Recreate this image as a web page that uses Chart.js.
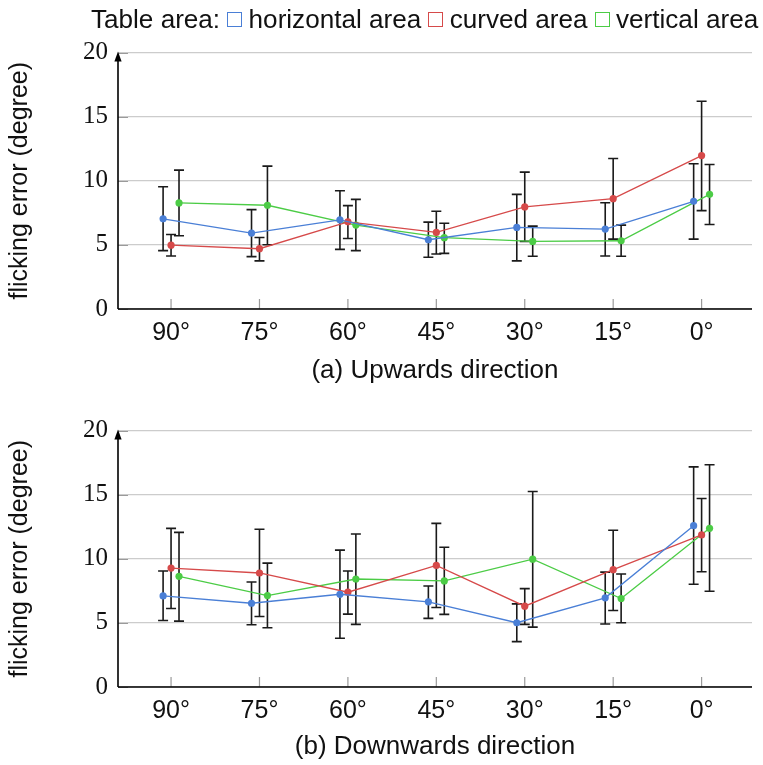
<!DOCTYPE html>
<html>
<head>
<meta charset="utf-8">
<script src="https://cdn.jsdelivr.net/npm/chart.js@4.4.1/dist/chart.umd.min.js"></script>
<style>
  html, body { margin: 0; padding: 0; background: #fff; width: 763px; height: 765px; overflow: hidden; }
  #legend { position: absolute; left: 91px; top: 4px; z-index: 2; white-space: nowrap;
            font: 26.1px "Liberation Sans", Arial, sans-serif; color: #111; display: flex; align-items: center; }
  .box { display: inline-block; box-sizing: border-box; width: 15px; height: 15px; border: 1.5px solid; background: #fff; margin: 0 6.5px 0 7px; }
  canvas { position: absolute; left: 0; }
</style>
</head>
<body>
<div id="legend">
  <span>Table area:</span>
  <span class="box" style="border-color:#4a7fd6"></span><span>horizontal area</span>
  <span class="box" style="border-color:#d64a4a"></span><span>curved area</span>
  <span class="box" style="border-color:#4ccc46"></span><span>vertical area</span>
</div>
<canvas id="chartUp" width="763" height="370" style="top:30px;width:763px;height:370px"></canvas>
<canvas id="chartDown" width="763" height="357" style="top:408px;width:763px;height:357px"></canvas>

<script>
// Table angles on the x axis
const angleLabels = ['90°', '75°', '60°', '45°', '30°', '15°', '0°'];
const seriesNames = ['horizontal area', 'curved area', 'vertical area'];

// (a) Upwards direction: mean flicking error and error-bar ends (degree)
const upHorizontalMean = [7.03, 5.92, 6.95, 5.40, 6.36, 6.23, 8.40];
const upHorizontalLow  = [4.55, 4.08, 4.65, 4.03, 3.75, 4.13, 5.45];
const upHorizontalHigh = [9.53, 7.75, 9.22, 6.77, 8.94, 8.29, 11.32];
const upCurvedMean     = [4.98, 4.70, 6.80, 5.97, 7.96, 8.60, 11.96];
const upCurvedLow      = [4.13, 3.75, 5.50, 4.29, 5.27, 5.45, 7.67];
const upCurvedHigh     = [5.81, 5.58, 8.06, 7.62, 10.67, 11.73, 16.20];
const upVerticalMean   = [8.27, 8.09, 6.54, 5.56, 5.27, 5.32, 8.94];
const upVerticalLow    = [5.71, 5.01, 4.55, 4.34, 4.11, 4.11, 6.59];
const upVerticalHigh   = [10.83, 11.14, 8.55, 6.69, 6.46, 6.54, 11.27];

// (b) Downwards direction
const downHorizontalMean = [7.10, 6.53, 7.23, 6.64, 5.01, 6.95, 12.58];
const downHorizontalLow  = [5.19, 4.85, 3.80, 5.35, 3.54, 4.91, 8.01];
const downHorizontalHigh = [9.04, 8.19, 10.67, 7.88, 6.48, 8.96, 17.16];
const downCurvedMean     = [9.27, 8.89, 7.39, 9.48, 6.30, 9.15, 11.86];
const downCurvedLow      = [6.12, 5.50, 5.68, 6.20, 4.88, 5.97, 8.99];
const downCurvedHigh     = [12.37, 12.30, 9.04, 12.76, 7.67, 12.22, 14.70];
const downVerticalMean   = [8.63, 7.13, 8.42, 8.27, 9.97, 6.90, 12.37];
const downVerticalLow    = [5.14, 4.62, 4.88, 5.66, 4.67, 5.01, 7.47];
const downVerticalHigh   = [12.06, 9.66, 11.93, 10.90, 15.24, 8.81, 17.33];

// y axis ticks
const yTickValues = [0, 5, 10, 15, 20];

// presentation
const seriesColors = ['#4a7fd6', '#d64a4a', '#4ccc46'];
const seriesShift = [-0.09, 0, 0.09];   // small horizontal dodge so the bars do not overlap
const SANS = '"Liberation Sans", Arial, sans-serif';
const SERIF = '"Liberation Serif", "Times New Roman", serif';

// Axis frame, tick marks and error bars, drawn under the lines and points
const frameAndErrorBars = {
  id: 'frameAndErrorBars',
  beforeDatasetsDraw(chart) {
    const { ctx, chartArea: a, scales: { x, y } } = chart;
    ctx.save();
    // short darker tick marks inside the plot
    ctx.strokeStyle = '#9a9a9a';
    ctx.lineWidth = 1.2;
    ctx.beginPath();
    for (const v of yTickValues) {
      const py = Math.round(y.getPixelForValue(v)) + 0.5;
      ctx.moveTo(a.left, py); ctx.lineTo(a.left + 10, py);
    }
    for (let i = 0; i < angleLabels.length; i++) {
      const px = x.getPixelForValue(i);
      ctx.moveTo(px, a.bottom); ctx.lineTo(px, a.bottom - 10);
    }
    ctx.stroke();
    // axes
    ctx.strokeStyle = '#000';
    ctx.lineWidth = 1.6;
    ctx.beginPath();
    ctx.moveTo(a.left, a.bottom); ctx.lineTo(a.right, a.bottom);
    ctx.moveTo(a.left, a.bottom); ctx.lineTo(a.left, a.top + 6);
    ctx.stroke();
    ctx.fillStyle = '#000';
    ctx.beginPath();
    ctx.moveTo(a.left, a.top - 1);
    ctx.lineTo(a.left - 3.6, a.top + 9);
    ctx.lineTo(a.left + 3.6, a.top + 9);
    ctx.closePath();
    ctx.fill();
    // error bars
    ctx.strokeStyle = '#1a1a1a';
    ctx.lineWidth = 1.6;
    chart.data.datasets.forEach(ds => {
      ds.data.forEach((pt, i) => {
        const px = x.getPixelForValue(pt.x);
        const lo = y.getPixelForValue(ds.errLow[i]);
        const hi = y.getPixelForValue(ds.errHigh[i]);
        ctx.beginPath();
        ctx.moveTo(px, lo); ctx.lineTo(px, hi);
        ctx.moveTo(px - 5, lo); ctx.lineTo(px + 5, lo);
        ctx.moveTo(px - 5, hi); ctx.lineTo(px + 5, hi);
        ctx.stroke();
      });
    });
    ctx.restore();
  }
};

function makeChart(canvasId, caption, means, lows, highs, padBottom, captionPad) {
  const datasets = means.map((m, s) => ({
    label: seriesNames[s],
    data: m.map((v, i) => ({ x: i + seriesShift[s], y: v })),
    errLow: lows[s],
    errHigh: highs[s],
    borderColor: seriesColors[s],
    backgroundColor: seriesColors[s],
    borderWidth: 1.3,
    pointRadius: 3.6,
    pointBorderWidth: 0,
    tension: 0,
    showLine: true
  }));
  return new Chart(document.getElementById(canvasId), {
    type: 'scatter',
    data: { datasets },
    plugins: [frameAndErrorBars],
    options: {
      responsive: false,
      animation: false,
      devicePixelRatio: 1,
      layout: { padding: { top: 21, right: 11, left: 0, bottom: padBottom } },
      plugins: { legend: { display: false }, tooltip: { enabled: false } },
      scales: {
        x: {
          type: 'linear',
          min: -0.6, max: 6.57,
          afterBuildTicks: s => { s.ticks = angleLabels.map((_, i) => ({ value: i })); },
          afterFit: s => { s.height = 78; },
          ticks: {
            callback: v => angleLabels[v],
            font: { family: SANS, size: 25 },
            color: '#111',
            padding: 9.5,
            maxRotation: 0
          },
          grid: { display: false, drawTicks: false },
          border: { display: false },
          title: {
            display: true, text: caption,
            font: { family: SANS, size: 26 }, color: '#111',
            padding: { top: 0, bottom: captionPad }
          }
        },
        y: {
          min: 0, max: 20,
          afterBuildTicks: s => { s.ticks = yTickValues.map(v => ({ value: v })); },
          afterFit: s => { s.width = 118; },
          ticks: {
            font: { family: SERIF, size: 25, lineHeight: 1 },
            color: '#111',
            padding: 10
          },
          grid: { color: '#cccccc', lineWidth: 1.2, drawTicks: false },
          border: { display: false },
          title: {
            display: true, text: 'flicking error (degree)',
            font: { family: SANS, size: 25 }, color: '#111',
            padding: { top: 5, bottom: 0 }
          }
        }
      }
    }
  });
}

makeChart('chartUp', '(a) Upwards direction',
  [upHorizontalMean, upCurvedMean, upVerticalMean],
  [upHorizontalLow, upCurvedLow, upVerticalLow],
  [upHorizontalHigh, upCurvedHigh, upVerticalHigh], 13, 1);

makeChart('chartDown', '(b) Downwards direction',
  [downHorizontalMean, downCurvedMean, downVerticalMean],
  [downHorizontalLow, downCurvedLow, downVerticalLow],
  [downHorizontalHigh, downCurvedHigh, downVerticalHigh], 0, 3);
</script>
</body>
</html>
